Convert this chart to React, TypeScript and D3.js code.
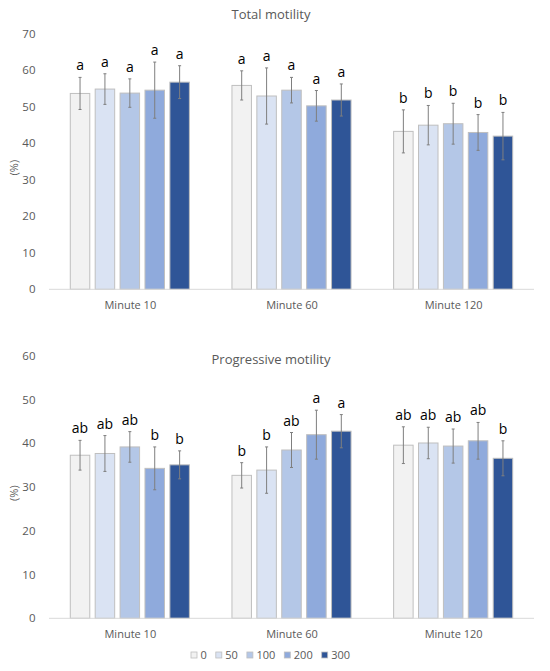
import * as d3 from "d3";

const groups = ["Minute 10", "Minute 60", "Minute 120"];
const doses = ["0", "50", "100", "200", "300"];
const doseColors = ["#F2F2F2", "#DAE3F3", "#B4C7E7", "#8FAADC", "#2F5597"];

// Total motility (%), mean and SD per group x dose
const totalMean = [
  [53.7, 54.9, 53.8, 54.6, 56.8],
  [55.9, 53.0, 54.6, 50.3, 51.9],
  [43.3, 45.0, 45.4, 43.0, 42.0],
];
const totalSd = [
  [4.4, 4.2, 3.9, 7.7, 4.5],
  [4.0, 7.7, 3.5, 4.2, 4.4],
  [5.9, 5.4, 5.6, 4.9, 6.5],
];
const totalLetters = [
  ["a", "a", "a", "a", "a"],
  ["a", "a", "a", "a", "a"],
  ["b", "b", "b", "b", "b"],
];

// Progressive motility (%)
const progMean = [
  [37.3, 37.7, 39.2, 34.3, 35.1],
  [32.7, 33.9, 38.5, 42.0, 42.8],
  [39.6, 40.1, 39.4, 40.6, 36.6],
];
const progSd = [
  [3.4, 4.1, 3.5, 4.9, 3.2],
  [2.9, 5.3, 4.0, 5.6, 3.8],
  [4.2, 3.6, 3.9, 4.2, 4.0],
];
const progLetters = [
  ["ab", "ab", "ab", "b", "b"],
  ["b", "b", "ab", "a", "a"],
  ["ab", "ab", "ab", "ab", "b"],
];

const FONT = "'Open Sans', 'Noto Sans', sans-serif";
const GRAY = "#595959";

interface PanelProps {
  title: string;
  titleY: number;
  means: number[][];
  sds: number[][];
  letters: string[][];
  yMax: number;
  y0: number;
  y1: number;
}

function Panel({ title, titleY, means, sds, letters, yMax, y0, y1 }: PanelProps) {
  const left = 49;
  const right = 534;

  const x0 = d3.scaleBand<string>().domain(groups).range([left, right]);
  const x1 = d3
    .scaleBand<string>()
    .domain(doses)
    .range([0, x0.bandwidth()])
    .paddingInner(0.217)
    .paddingOuter(0.855);
  const y = d3.scaleLinear().domain([0, yMax]).range([y0, y1]);
  const ticks = d3.range(0, yMax + 1, 10);

  return (
    <g>
      <text x={271} y={titleY} textAnchor="middle" fontSize={13} fill={GRAY} fontFamily={FONT}>
        {title}
      </text>
      {ticks.map((t) => (
        <text
          key={t}
          x={35.5}
          y={y(t)}
          dy="0.35em"
          textAnchor="end"
          fontSize={11.5}
          fill={GRAY}
          fontFamily={FONT}
        >
          {t}
        </text>
      ))}
      <text
        transform={`translate(18,${(y0 + y1) / 2 + 6}) rotate(-90)`}
        textAnchor="middle"
        fontSize={11}
        fill={GRAY}
        fontFamily={FONT}
      >
        (%)
      </text>
      {groups.map((g, gi) => (
        <g key={g} transform={`translate(${x0(g)},0)`}>
          {doses.map((d, di) => {
            const m = means[gi][di];
            const s = sds[gi][di];
            const bx = x1(d)!;
            const bw = x1.bandwidth();
            const cx = bx + bw / 2;
            return (
              <g key={d}>
                <rect
                  x={bx}
                  y={y(m)}
                  width={bw}
                  height={y(0) - y(m)}
                  fill={doseColors[di]}
                  stroke="#BFBFBF"
                  strokeWidth={1}
                />
                <line x1={cx} x2={cx} y1={y(m + s)} y2={y(m - s)} stroke="#7F7F7F" strokeWidth={1} />
                <line x1={cx - 1.5} x2={cx + 1.5} y1={y(m + s)} y2={y(m + s)} stroke="#7F7F7F" />
                <line x1={cx - 1.5} x2={cx + 1.5} y1={y(m - s)} y2={y(m - s)} stroke="#7F7F7F" />
                <text
                  x={cx}
                  y={y(m + s) - 7}
                  textAnchor="middle"
                  fontSize={14}
                  fill="#000"
                  fontFamily={FONT}
                >
                  {letters[gi][di]}
                </text>
              </g>
            );
          })}
          <text
            x={x0.bandwidth() / 2 + 0.5}
            y={y0 + 20}
            textAnchor="middle"
            fontSize={11}
            fill={GRAY}
            fontFamily={FONT}
          >
            {g}
          </text>
        </g>
      ))}
      <line x1={left} x2={right} y1={y0} y2={y0} stroke="#D9D9D9" strokeWidth={1} />
    </g>
  );
}

function Legend({ x, y }: { x: number; y: number }) {
  const charW = 6.3;
  let cur = x;
  const items = doses.map((d, i) => {
    const item = { d, i, sx: cur };
    cur += 10 + d.length * charW + 8.5;
    return item;
  });
  return (
    <g>
      {items.map(({ d, i, sx }) => (
        <g key={d}>
          <rect
            x={sx}
            y={y - 3.5}
            width={6}
            height={6}
            fill={doseColors[i]}
            stroke="#BFBFBF"
            strokeWidth={0.8}
          />
          <text x={sx + 9.5} y={y} dy="0.35em" fontSize={11} fill={GRAY} fontFamily={FONT}>
            {d}
          </text>
        </g>
      ))}
    </g>
  );
}

export default function App() {
  return (
    <svg
      width={550}
      height={671}
      style={{ position: "absolute", left: 0, top: 0, background: "#fff" }}
    >
      <Panel
        title="Total motility"
        titleY={18.5}
        means={totalMean}
        sds={totalSd}
        letters={totalLetters}
        yMax={70}
        y0={289.3}
        y1={34}
      />
      <Panel
        title="Progressive motility"
        titleY={363.5}
        means={progMean}
        sds={progSd}
        letters={progLetters}
        yMax={60}
        y0={618.3}
        y1={356}
      />
      <Legend x={191} y={655.5} />
    </svg>
  );
}
